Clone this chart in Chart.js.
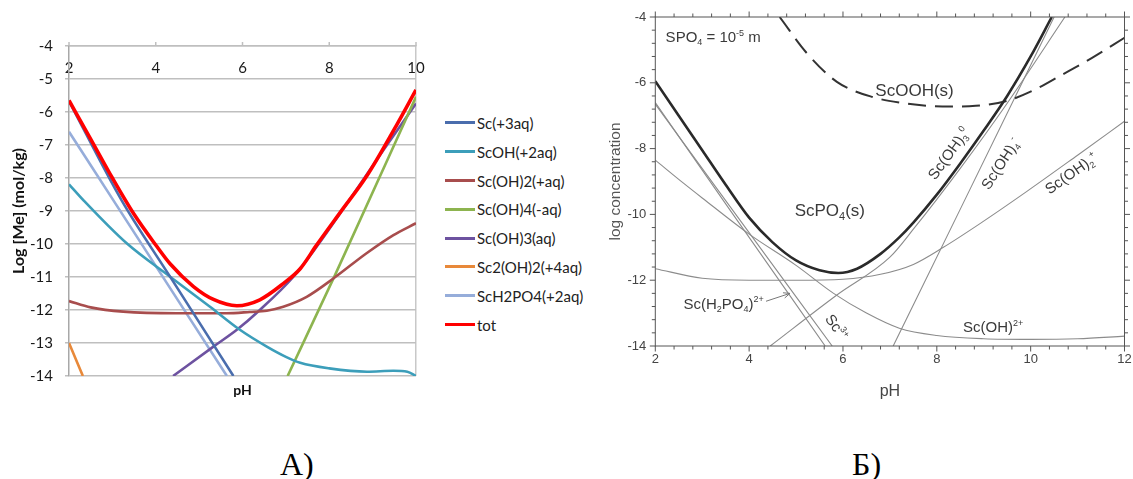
<!DOCTYPE html>
<html><head><meta charset="utf-8">
<script src="https://cdn.jsdelivr.net/npm/chart.js@4.4.0/dist/chart.umd.min.js"></script>
<style>
html,body{margin:0;padding:0;background:#fff;}
body{width:1133px;height:479px;overflow:hidden;position:relative;}
#wa{position:absolute;left:0;top:0;width:440px;height:420px;}
#wb{position:absolute;left:560px;top:0;width:573px;height:420px;}
#legend{position:absolute;left:445px;top:108.6px;font-family:Lato,sans-serif;font-size:15px;color:#222;}
.li{height:28.8px;display:flex;align-items:center;white-space:nowrap;}
.sw{width:30px;height:3px;margin-right:2px;}
.cap{position:absolute;top:448px;font-family:'Liberation Serif','Times New Roman',serif;font-size:32px;line-height:32px;color:#000;}
</style></head><body>
<div id="wa"><canvas id="ca"></canvas></div>
<div id="legend"></div>
<div id="wb"><canvas id="cb"></canvas></div>
<div class="cap" style="left:280px;">А)</div>
<div class="cap" style="left:852px;">Б)</div>
<script>
// ================= Chart A data (pH vs Log [Me]) =================
const phA_Sc3 = [2, 3.21, 4.33, 5.79];
const logA_Sc3 = [-5.67, -8.67, -10.99, -14];
const phA_ScOH = [2, 2.33, 3.33, 4.33, 5.25, 5.94, 6.56, 7.0, 7.33, 8, 8.87, 9.48, 9.8, 10];
const logA_ScOH = [-8.19, -8.67, -9.98, -10.99, -11.9, -12.6, -13.11, -13.42, -13.6, -13.77, -13.87, -13.84, -13.87, -14.0];
const phA_ScOH2 = [2, 2.5, 3.25, 4.48, 5.63, 6.17, 6.56, 6.94, 7.48, 8.1, 8.86, 9.48, 10];
const logA_ScOH2 = [-11.73, -11.92, -12.05, -12.1, -12.1, -12.06, -12.02, -11.9, -11.6, -11.04, -10.28, -9.73, -9.37];
const phA_ScOH4 = [7.04, 8.13, 10];
const logA_ScOH4 = [-14, -10.95, -5.54];
const phA_ScOH3 = [4.4, 5.33, 5.87, 6.4, 7.17, 7.7, 8.5, 9.25, 10];
const logA_ScOH3 = [-14, -13.11, -12.6, -12.0, -11.0, -10.1, -8.6, -7.15, -5.74];
const phA_Sc2OH2 = [2, 2.32];
const logA_Sc2OH2 = [-13.0, -14];
const phA_ScH2PO4 = [2, 3.02, 5.64];
const logA_ScH2PO4 = [-6.6, -8.67, -14];
const phA_tot = [2, 2.5, 3, 3.5, 4, 4.33, 4.87, 5.33, 5.87, 6.4, 6.94, 7.33, 7.7, 8.25, 8.86, 9.5, 10];
const logA_tot = [-5.65, -6.82, -8.0, -9.1, -10.03, -10.6, -11.29, -11.68, -11.87, -11.69, -11.2, -10.75, -10.05, -9.05, -7.95, -6.52, -5.33];
const namesA = ['Sc(+3aq)', 'ScOH(+2aq)', 'Sc(OH)2(+aq)', 'Sc(OH)4(-aq)', 'Sc(OH)3(aq)', 'Sc2(OH)2(+4aq)', 'ScH2PO4(+2aq)', 'tot'];
const ticksA_x = [2, 4, 6, 8, 10];

// ================= Chart B data (pH vs log concentration) =================
const phB_total = [2, 2.5, 3, 3.5, 4, 4.5, 5, 5.5, 5.9, 6.3, 6.8, 7.2, 7.5, 8, 8.5, 9, 9.5, 10, 10.45];
const logB_total = [-5.95, -7.0, -8.05, -9.1, -10.1, -10.85, -11.4, -11.7, -11.78, -11.65, -11.2, -10.7, -10.25, -9.4, -8.45, -7.45, -6.4, -5.2, -4.0];
const phB_ScOOH = [4.65, 5.23, 5.87, 6.65, 7.3, 7.81, 8.3, 8.83, 9.49, 10.1, 10.65, 11.3, 12];
const logB_ScOOH = [-4.0, -5.1, -5.97, -6.44, -6.62, -6.7, -6.72, -6.7, -6.55, -6.2, -5.77, -5.25, -4.63];
const phB_Sc3 = [2, 3.5, 5.77];
const logB_Sc3 = [-6.65, -9.58, -14];
const phB_ScH2PO4 = [2, 3.5, 5.62];
const logB_ScH2PO4 = [-6.6, -9.68, -14];
const phB_ScOH = [2, 2.6, 3, 4, 5, 5.8, 6.5, 7.2, 8, 9, 10, 11, 12];
const logB_ScOH = [-8.35, -9.05, -9.5, -10.6, -11.55, -12.4, -13.0, -13.46, -13.68, -13.78, -13.8, -13.78, -13.7];
const phB_ScOH2 = [2, 3, 4, 5, 6, 6.8, 7.5, 8.14, 8.92, 9.92, 11, 12];
const logB_ScOH2 = [-11.65, -11.94, -12.0, -12.0, -11.97, -11.82, -11.52, -11.0, -10.28, -9.3, -8.2, -7.17];
const phB_ScOH3 = [4.45, 5.87, 7.0, 7.5, 8.5, 9.5, 10.73];
const logB_ScOH3 = [-14, -12.45, -11.3, -10.45, -8.6, -6.62, -4.0];
const phB_ScOH4 = [7.07, 8.49, 10.5];
const logB_ScOH4 = [-14, -9.87, -4.0];
const ticksB = [2, 4, 6, 8, 10, 12];

const pts = (xs, ys) => xs.map((x, i) => ({x: x, y: ys[i]}));

// ================= Chart A =================
const stylesA = [
  {c: '#4A6DAD', w: 2.6}, {c: '#3C9EBA', w: 2.6}, {c: '#A84D4D', w: 2.6}, {c: '#8DB44F', w: 2.6},
  {c: '#6D52A0', w: 2.6}, {c: '#E8893A', w: 2.6}, {c: '#96ADDA', w: 2.6}, {c: '#FF0000', w: 3.6}
];
const seriesA = [
  [phA_Sc3, logA_Sc3], [phA_ScOH, logA_ScOH], [phA_ScOH2, logA_ScOH2], [phA_ScOH4, logA_ScOH4],
  [phA_ScOH3, logA_ScOH3], [phA_Sc2OH2, logA_Sc2OH2], [phA_ScH2PO4, logA_ScH2PO4], [phA_tot, logA_tot]
];
const dsA = seriesA.map((s, i) => ({
  label: namesA[i], data: pts(s[0], s[1]), borderColor: stylesA[i].c, backgroundColor: stylesA[i].c,
  borderWidth: stylesA[i].w, pointRadius: 0, cubicInterpolationMode: 'monotone', fill: false,
  order: i === 7 ? -1 : i
}));

const topTicksA = {
  id: 'topTicksA',
  afterDraw(chart) {
    const c = chart.ctx, xs = chart.scales.x, ys = chart.scales.y;
    const yTop = ys.getPixelForValue(-4);
    c.save(); c.strokeStyle = '#BFBFBF'; c.lineWidth = 1.5;
    ticksA_x.forEach(v => { const x = xs.getPixelForValue(v); c.beginPath(); c.moveTo(x, yTop - 4); c.lineTo(x, yTop); c.stroke(); });
    c.restore();
  }
};

new Chart(document.getElementById('ca'), {
  type: 'line',
  data: {datasets: dsA},
  options: {
    responsive: true, maintainAspectRatio: false, animation: false,
    layout: {padding: {top: 46, right: 24, left: 0, bottom: 0}},
    plugins: {legend: {display: false}, tooltip: {enabled: false}},
    scales: {
      x: {type: 'linear', min: 2, max: 10, position: {y: -4},
        afterBuildTicks: s => { s.ticks = ticksA_x.map(v => ({value: v})); },
        ticks: {padding: 13, color: '#1a1a1a', font: {family: 'Lato', size: 15}},
        grid: {drawTicks: false, lineWidth: 1.5, color: c => (c.tick && c.tick.value === 10) ? '#C8C8C8' : 'rgba(0,0,0,0)'},
        border: {display: true, color: '#BFBFBF', width: 1.5}},
      xb: {type: 'linear', position: 'bottom', min: 2, max: 10,
        ticks: {display: false}, grid: {display: false}, border: {display: false},
        title: {display: true, text: 'pH', color: '#111', font: {family: 'Lato', size: 14, weight: 'bold'}, padding: {top: 0, bottom: 21}},
        afterFit: s => { s.height = 44; }},
      y: {type: 'linear', min: -14, max: -4,
        ticks: {stepSize: 1, padding: 12, color: '#1a1a1a', font: {family: 'Lato', size: 15}},
        grid: {color: '#BFBFBF', lineWidth: 1.5, tickLength: 4},
        border: {color: '#A8A8A8', width: 1.5},
        title: {display: true, text: 'Log [Me] (mol/kg)', color: '#111', font: {family: 'Lato', size: 16, weight: 'bold'}, padding: {top: 9, bottom: 0}},
        afterFit: s => { s.width = 69; }}
    }
  },
  plugins: [topTicksA]
});

// legend for chart A (built from the series names / colours)
const lg = document.getElementById('legend');
namesA.forEach((n, i) => {
  const row = document.createElement('div'); row.className = 'li';
  const sw = document.createElement('span'); sw.className = 'sw'; sw.style.background = stylesA[i].c;
  const tx = document.createElement('span'); tx.textContent = n;
  row.appendChild(sw); row.appendChild(tx); lg.appendChild(row);
});

// ================= Chart B =================
const thick = {borderColor: '#2a2a2a', borderWidth: 2.6};
const thin = {borderColor: '#8c8c8c', borderWidth: 1.1};
const dashed = {borderColor: '#333333', borderWidth: 2, borderDash: [18, 9]};
const seriesB = [
  ['ScPO4(s)', phB_total, logB_total, thick],
  ['ScOOH(s)', phB_ScOOH, logB_ScOOH, dashed],
  ['Sc3+', phB_Sc3, logB_Sc3, thin],
  ['Sc(H2PO4)2+', phB_ScH2PO4, logB_ScH2PO4, thin],
  ['Sc(OH)2+', phB_ScOH, logB_ScOH, thin],
  ['Sc(OH)2 +', phB_ScOH2, logB_ScOH2, thin],
  ['Sc(OH)3 0', phB_ScOH3, logB_ScOH3, thin],
  ['Sc(OH)4 -', phB_ScOH4, logB_ScOH4, thin]
];
const dsB = seriesB.map(s => Object.assign({
  label: s[0], data: pts(s[1], s[2]), pointRadius: 0, cubicInterpolationMode: 'monotone', fill: false
}, s[3]));

// annotation texts placed in data coordinates (pH, log c)
const labelsB = [
  {t: 'SPO_4 = 10^{-5} m', x: 2.22, y: -4.6, size: 15, align: 'left', rot: 0},
  {t: 'ScOOH(s)', x: 6.69, y: -6.23, size: 17, align: 'left', rot: 0},
  {t: 'ScPO_4(s)', x: 4.97, y: -9.87, size: 17, align: 'left', rot: 0},
  {t: 'Sc(OH)_3^0', x: 8.25, y: -8.14, size: 15, align: 'center', rot: -54},
  {t: 'Sc(OH)_4^-', x: 9.35, y: -8.45, size: 15, align: 'center', rot: -57},
  {t: 'Sc(OH)_2^+', x: 10.86, y: -8.74, size: 15, align: 'center', rot: -35},
  {t: 'Sc(H_2PO_4)^{2+}', x: 2.6, y: -12.7, size: 15, align: 'left', rot: 0},
  {t: 'Sc^{3+}', x: 5.87, y: -13.42, size: 15, align: 'center', rot: 55},
  {t: 'Sc(OH)^{2+}', x: 8.56, y: -13.41, size: 15, align: 'left', rot: 0}
];
const arrowB = {from: [4.36, -12.64], to: [4.87, -12.4]};

function parseRich(str) {
  const out = []; let i = 0, buf = '';
  while (i < str.length) {
    const ch = str[i];
    if (ch === '_' || ch === '^') {
      if (buf) { out.push({t: buf}); buf = ''; }
      let t;
      if (str[i + 1] === '{') { const j = str.indexOf('}', i + 2); t = str.slice(i + 2, j); i = j + 1; }
      else { t = str[i + 1]; i += 2; }
      out.push({t: t, sub: ch === '_', sup: ch === '^'});
    } else { buf += ch; i++; }
  }
  if (buf) out.push({t: buf});
  return out;
}
function drawRich(ctx, str, x, y, size, align, rot, color) {
  const segs = parseRich(str);
  const fam = '"Liberation Sans", Arial, sans-serif';
  const f = s => ((s.sub || s.sup) ? Math.round(size * 0.62) : size) + 'px ' + fam;
  let total = 0;
  segs.forEach(s => { ctx.font = f(s); s.w = ctx.measureText(s.t).width; total += s.w; });
  ctx.save();
  ctx.translate(x, y); ctx.rotate(rot * Math.PI / 180);
  ctx.fillStyle = color; ctx.textBaseline = 'alphabetic'; ctx.textAlign = 'left';
  let cx = align === 'center' ? -total / 2 : 0;
  const base = size * 0.36;
  segs.forEach(s => {
    ctx.font = f(s);
    const dy = s.sub ? size * 0.22 : (s.sup ? -size * 0.42 : 0);
    ctx.fillText(s.t, cx, base + dy); cx += s.w;
  });
  ctx.restore();
}

const frameB = {
  id: 'frameB',
  afterDatasetsDraw(chart) {
    const c = chart.ctx, xs = chart.scales.x, ys = chart.scales.y, a = chart.chartArea;
    c.save();
    c.strokeStyle = '#555'; c.lineWidth = 1;
    c.strokeRect(a.left, a.top, a.right - a.left, a.bottom - a.top);
    // minor ticks every 0.4, major every 2, drawn outward on all four sides
    for (let i = 0; i <= 25; i++) {
      const v = 2 + i * 0.4, x = xs.getPixelForValue(v), L = (i % 5 === 0) ? 5.5 : 3.5;
      c.beginPath(); c.moveTo(x, a.bottom); c.lineTo(x, a.bottom + L); c.moveTo(x, a.top); c.lineTo(x, a.top - L); c.stroke();
    }
    for (let i = 0; i <= 25; i++) {
      const v = -14 + i * 0.4, y = ys.getPixelForValue(v), L = (i % 5 === 0) ? 5.5 : 3.5;
      c.beginPath(); c.moveTo(a.left, y); c.lineTo(a.left - L, y); c.moveTo(a.right, y); c.lineTo(a.right + L, y); c.stroke();
    }
    // annotations
    labelsB.forEach(l => drawRich(c, l.t, xs.getPixelForValue(l.x), ys.getPixelForValue(l.y), l.size, l.align, l.rot, '#3a3a3a'));
    // arrow
    const x1 = xs.getPixelForValue(arrowB.from[0]), y1 = ys.getPixelForValue(arrowB.from[1]);
    const x2 = xs.getPixelForValue(arrowB.to[0]), y2 = ys.getPixelForValue(arrowB.to[1]);
    const ang = Math.atan2(y2 - y1, x2 - x1);
    c.strokeStyle = '#777'; c.lineWidth = 1;
    c.beginPath(); c.moveTo(x1, y1); c.lineTo(x2, y2);
    c.moveTo(x2, y2); c.lineTo(x2 - 7 * Math.cos(ang - 0.4), y2 - 7 * Math.sin(ang - 0.4));
    c.moveTo(x2, y2); c.lineTo(x2 - 7 * Math.cos(ang + 0.4), y2 - 7 * Math.sin(ang + 0.4));
    c.stroke();
    c.restore();
  }
};

new Chart(document.getElementById('cb'), {
  type: 'line',
  data: {datasets: dsB},
  options: {
    responsive: true, maintainAspectRatio: false, animation: false,
    layout: {padding: {top: 17, right: 8.5, left: 0, bottom: 0}},
    plugins: {legend: {display: false}, tooltip: {enabled: false}},
    scales: {
      x: {type: 'linear', min: 2, max: 12, position: 'bottom',
        afterBuildTicks: s => { s.ticks = ticksB.map(v => ({value: v})); },
        ticks: {padding: 6, color: '#444', font: {family: 'Liberation Sans', size: 13}},
        grid: {display: false, drawTicks: false}, border: {display: false},
        title: {display: true, text: 'pH', color: '#444', font: {family: 'Liberation Sans', size: 16}, padding: {top: 0, bottom: 19}},
        afterFit: s => { s.height = 74; s.paddingRight = 0; s.paddingLeft = 0; }},
      y: {type: 'linear', min: -14, max: -4,
        ticks: {stepSize: 2, padding: 9, color: '#444', font: {family: 'Liberation Sans', size: 13}},
        grid: {display: false, drawTicks: false}, border: {display: false},
        title: {display: true, text: 'log concentration', color: '#555', font: {family: 'Liberation Sans', size: 15.5}, padding: {top: 46, bottom: 0}},
        afterFit: s => { s.width = 95.3; s.paddingTop = 0; s.paddingBottom = 0; }}
    }
  },
  plugins: [frameB]
});
</script>
</body></html>
